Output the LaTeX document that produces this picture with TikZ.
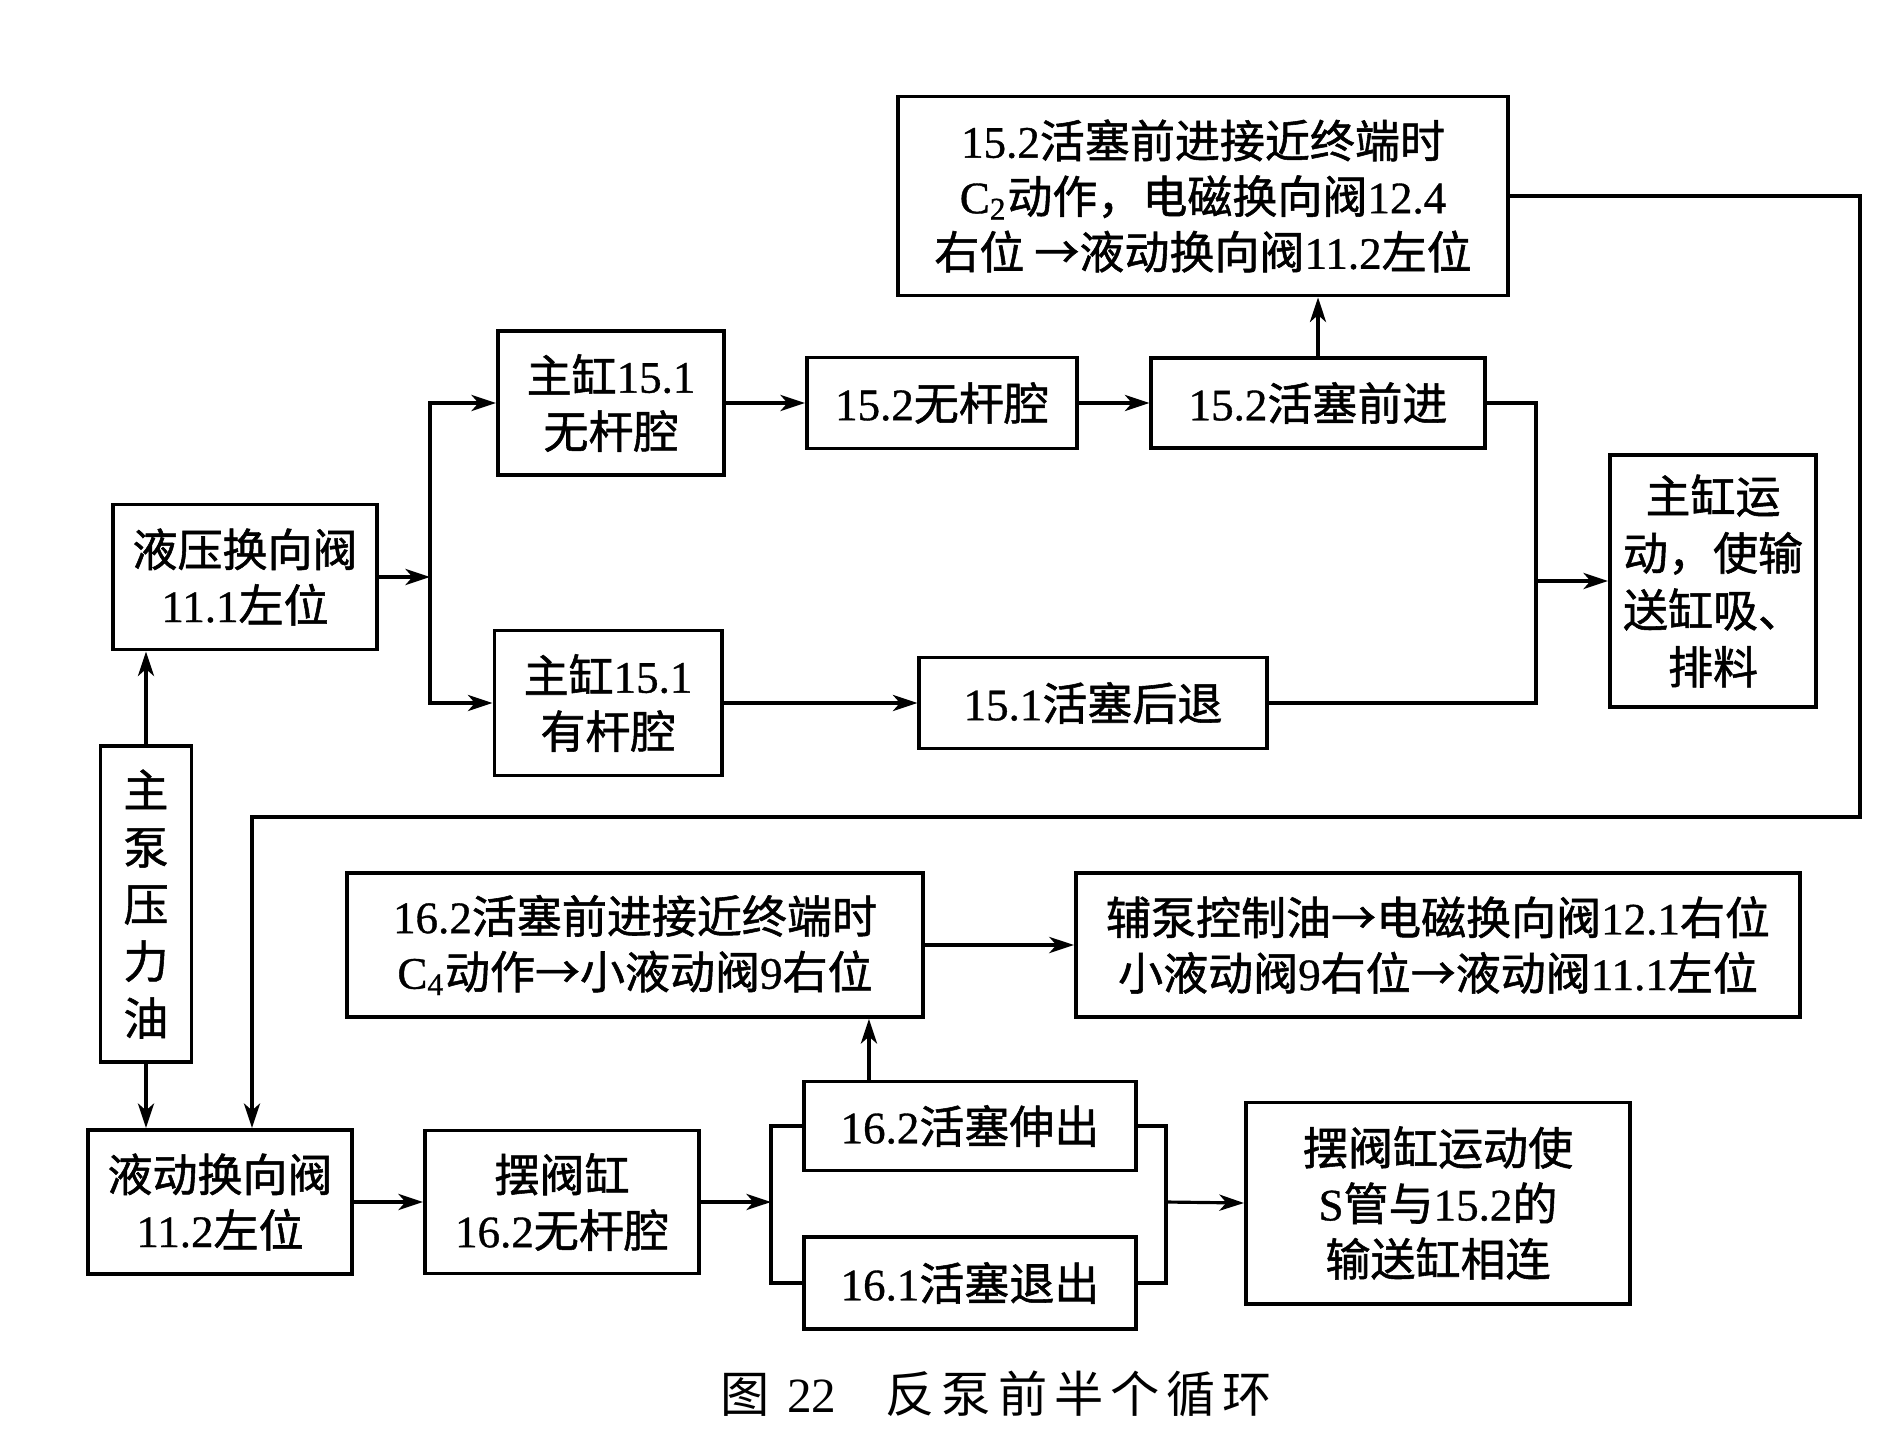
\documentclass[tikz,border=0pt]{standalone}
\usepackage{fontspec}
\setmainfont{Noto Sans CJK SC}[FakeBold=1.2]
\newfontfamily\capfont{Noto Sans CJK SC}
\newfontfamily\latfont{Liberation Serif}[FakeBold=0.8]
\newfontfamily\caplat{Liberation Serif}
\newcommand{\nmb}[1]{{\latfont #1}}
\usetikzlibrary{arrows.meta}

\begin{document}
\begin{tikzpicture}[x=0.01cm, y=-0.01cm,
    >={Stealth[length=7pt,width=4.6pt,inset=2pt]},
    box/.style={draw, line width=1.1pt, align=center, inner sep=0pt,
        font=\fontsize{12.8}{15.8}\selectfont},
    line/.style={line width=0.9pt}]
    \useasboundingbox (0,0) rectangle (1892,1446);

    %upper half: main cylinders
    \node[box, minimum width=2.64cm, minimum height=1.45cm] (hxf) at (245,577) {液压换向阀\\\nmb{11.1}左位};
    \node[box, minimum width=2.26cm, minimum height=1.44cm] (zg1) at (611,403) {主缸\nmb{15.1}\\无杆腔};
    \node[box, minimum width=2.27cm, minimum height=1.45cm] (zg2) at (608,703) {主缸\nmb{15.1}\\有杆腔};
    \node[box, minimum width=2.70cm, minimum height=0.91cm] (wgq) at (942,403) {\nmb{15.2}无杆腔};
    \node[box, minimum width=3.33cm, minimum height=0.90cm] (qj) at (1318,403) {\nmb{15.2}活塞前进};
    \node[box, minimum width=3.47cm, minimum height=0.91cm] (ht) at (1093,703) {\nmb{15.1}活塞后退};
    \node[box, minimum width=6.09cm, minimum height=1.99cm] (c2) at (1203,196) {\nmb{15.2}活塞前进接近终端时\\\nmb{C\textsubscript{2}}动作，电磁换向阀\nmb{12.4}\\右位 →液动换向阀\nmb{11.2}左位};
    \node[box, minimum width=2.06cm, minimum height=2.52cm, font=\fontsize{12.8}{16.2}\selectfont] (zgyd) at (1713,581) {主缸运\\动，使输\\送缸吸、\\排料};

    %lower half: swing cylinder
    \node[box, minimum width=0.91cm, minimum height=3.15cm, font=\fontsize{12.8}{16.2}\selectfont] (zbyl) at (146,904) {主\\泵\\压\\力\\油};
    \node[box, minimum width=2.63cm, minimum height=1.44cm] (ydhx) at (220,1202) {液动换向阀\\\nmb{11.2}左位};
    \node[box, minimum width=2.74cm, minimum height=1.43cm] (bfg) at (562,1202) {摆阀缸\\\nmb{16.2}无杆腔};
    \node[box, minimum width=3.32cm, minimum height=0.89cm] (ss) at (970,1126) {\nmb{16.2}活塞伸出};
    \node[box, minimum width=3.32cm, minimum height=0.92cm] (tc) at (970,1283) {\nmb{16.1}活塞退出};
    \node[box, minimum width=5.76cm, minimum height=1.44cm] (c4) at (635,945) {\nmb{16.2}活塞前进接近终端时\\\nmb{C\textsubscript{4}}动作→小液动阀\nmb{9}右位};
    \node[box, minimum width=7.24cm, minimum height=1.44cm] (fb) at (1438,945) {辅泵控制油→电磁换向阀\nmb{12.1}右位\\小液动阀\nmb{9}右位→液动阀\nmb{11.1}左位};
    \node[box, minimum width=3.84cm, minimum height=2.01cm] (res) at (1438,1203) {摆阀缸运动使\\\nmb{S}管与\nmb{15.2}的\\输送缸相连};

    %caption
    \node[font=\fontsize{14}{16}\capfont\addfontfeature{LetterSpace=14}] (cap) at (996,1394) {图 {\caplat 22}\quad 反泵前半个循环};

    %connectors upper half
    \coordinate (j1) at (430,577);
    \coordinate (j2) at (1536,581);
    \draw[line,->] (hxf.east) -- (j1);
    \draw[line,<->] (zg1.west) -| (j1) |- (zg2.west);
    \draw[line,->] (zg1.east) -- (wgq.west);
    \draw[line,->] (wgq.east) -- (qj.west);
    \draw[line,->] (zg2.east) -- (ht.west);
    \draw[line,->] (qj.north) -- (qj.north |- c2.south);
    \draw[line] (qj.east) -| (j2) |- (ht.east);
    \draw[line,->] (j2) -- (zgyd.west);

    %feedback to hydraulic valve 11.2
    \coordinate (f1) at (1860,817);
    \coordinate (f2) at (252,817);
    \draw[line,->] (c2.east) -| (f1) -- (f2) -- (f2 |- ydhx.north);

    %main pump oil
    \draw[line,->] (zbyl.north) -- (zbyl.north |- hxf.south);
    \draw[line,->] (zbyl.south) -- (zbyl.south |- ydhx.north);

    %connectors lower half
    \coordinate (j3) at (771,1202);
    \coordinate (j4) at (1166,1202);
    \draw[line,->] (ydhx.east) -- (bfg.west);
    \draw[line,->] (bfg.east) -- (j3);
    \draw[line] (ss.west) -| (j3) |- (tc.west);
    \draw[line] (ss.east) -| (j4) |- (tc.east);
    \draw[line,->] (j4) -- (res.west);
    \coordinate (s1) at ([xshift=-1.01cm]ss.north);
    \draw[line,->] (s1) -- (s1 |- c4.south);
    \draw[line,->] (c4.east) -- (fb.west);

\end{tikzpicture}
\end{document}
